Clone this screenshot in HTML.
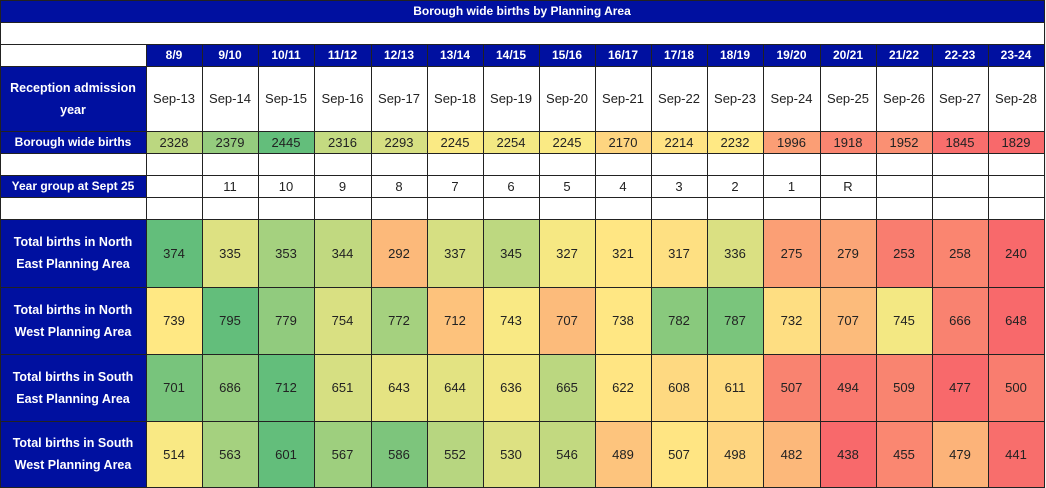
<!DOCTYPE html>
<html><head><meta charset="utf-8"><style>
body{margin:0;width:1046px;height:488px;background:#f2f2f2;position:relative;overflow:hidden;font-family:"Liberation Sans",sans-serif}
.c{position:absolute;box-sizing:border-box;border:1px solid #222;display:flex;align-items:center;justify-content:center;text-align:center;font-size:13px;color:#222;background:#fff;margin:-0.5px 0 0 -0.5px}
.b{background:#0010a0;color:#fff;font-weight:bold;font-size:12px}
.lab{font-size:12.5px;line-height:22px;padding:0 4px}
</style></head><body><div id="t"></div>
<script>
const R=[0,22,44,66,131,153,175,197,219,287,354,421,487];
const X=[0,146];for(let i=1;i<=16;i++)X.push(Math.round(146+i*56.125));
const t=document.getElementById('t');
function cell(x1,x2,y1,y2,txt,cls,bg){const d=document.createElement('div');d.className='c '+(cls||'');d.style.left=x1+'px';d.style.top=y1+'px';d.style.width=(x2-x1+1)+'px';d.style.height=(y2-y1+1)+'px';if(bg)d.style.background=bg;d.innerHTML=txt;t.appendChild(d);}
cell(0,1044,0,22,'Borough wide births by Planning Area','b');
cell(0,1044,22,44,'');
const hdr=['8/9','9/10','10/11','11/12','12/13','13/14','14/15','15/16','16/17','17/18','18/19','19/20','20/21','21/22','22-23','23-24'];
const sep=[];for(let i=13;i<=28;i++)sep.push('Sep-'+i);
const bor=[2328,2379,2445,2316,2293,2245,2254,2245,2170,2214,2232,1996,1918,1952,1845,1829];
const yg=['','11','10','9','8','7','6','5','4','3','2','1','R','','',''];
const data=[[374,335,353,344,292,337,345,327,321,317,336,275,279,253,258,240],
[739,795,779,754,772,712,743,707,738,782,787,732,707,745,666,648],
[701,686,712,651,643,644,636,665,622,608,611,507,494,509,477,500],
[514,563,601,567,586,552,530,546,489,507,498,482,438,455,479,441]];
const labs=['Total births in North East Planning Area','Total births in North West Planning Area','Total births in South East Planning Area','Total births in South West Planning Area'];
function mix(a,b,f){return 'rgb('+a.map((v,i)=>Math.round(v+(b[i]-v)*f)).join(',')+')';}
const RED=[248,105,107],YEL=[255,235,132],GRN=[99,190,123];
function colors(arr){const s=[...arr].sort((a,b)=>a-b);const mn=s[0],mx=s[s.length-1],md=(s[7]+s[8])/2;
return arr.map(v=>v<=md?mix(RED,YEL,(v-mn)/(md-mn)):mix(YEL,GRN,(v-md)/(mx-md)));}
cell(0,146,44,66,'');
for(let i=0;i<16;i++)cell(X[i+1],X[i+2],44,66,hdr[i],'b');
cell(0,146,66,131,'<span class="lab">Reception admission year</span>','b');
for(let i=0;i<16;i++)cell(X[i+1],X[i+2],66,131,sep[i]);
cell(0,146,131,153,'Borough wide births','b');
const bc=colors(bor);for(let i=0;i<16;i++)cell(X[i+1],X[i+2],131,153,bor[i],'',bc[i]);
for(const [y1,y2] of [[153,175],[197,219]]){cell(0,146,y1,y2,'');for(let i=0;i<16;i++)cell(X[i+1],X[i+2],y1,y2,'');}
cell(0,146,175,197,'Year group at Sept 25','b');
for(let i=0;i<16;i++)cell(X[i+1],X[i+2],175,197,yg[i]);
for(let r=0;r<4;r++){const y1=R[8+r],y2=R[9+r];cell(0,146,y1,y2,'<span class="lab">'+labs[r]+'</span>','b');
const cc=colors(data[r]);for(let i=0;i<16;i++)cell(X[i+1],X[i+2],y1,y2,data[r][i],'',cc[i]);}
</script></body></html>
